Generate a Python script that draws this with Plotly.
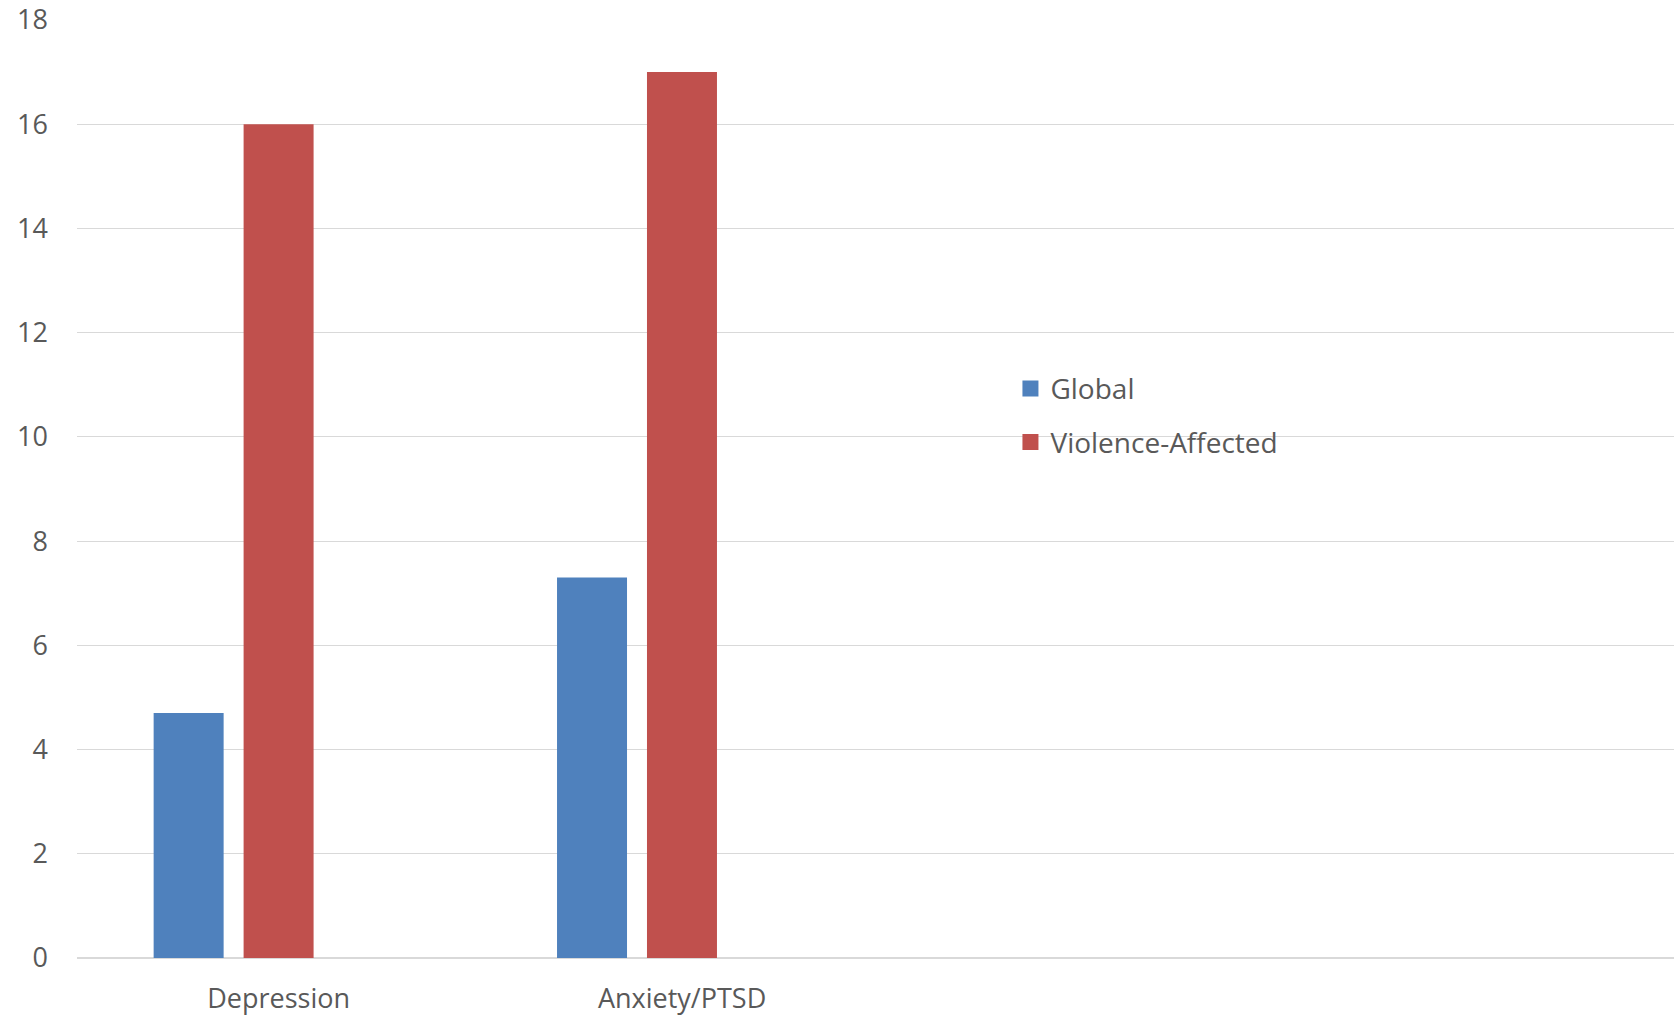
import plotly.graph_objects as go

# Prevalence (%) of mental disorders: global population vs. violence-affected populations
categories = ["Depression", "Anxiety/PTSD"]
global_vals = [4.7, 7.3]
violence_vals = [16, 17]
y_ticks = [0, 2, 4, 6, 8, 10, 12, 14, 16, 18]

BLUE = "#4F81BD"
RED = "#C0504D"
TEXT = "#595959"
GRID = "#D9D9D9"
FONT = "Open Sans"

x_pos = list(range(len(categories)))

fig = go.Figure()
# bar width and offsets in category units (three slots per group, last one empty)
bw = 0.1735
fig.add_trace(go.Bar(x=x_pos, y=global_vals, width=bw, offset=-0.310,
                     marker=dict(color=BLUE, line=dict(width=0)),
                     name="Global", showlegend=False))
fig.add_trace(go.Bar(x=x_pos, y=violence_vals, width=bw, offset=-0.087,
                     marker=dict(color=RED, line=dict(width=0)),
                     name="Violence-Affected", showlegend=False))

# legend swatches
for name, col, grp in [("Global", BLUE, "g1"), ("Violence-Affected", RED, "g2")]:
    fig.add_trace(go.Scatter(x=[None], y=[None], mode="markers", name=name,
                             legendgroup=grp,
                             marker=dict(symbol="square", size=18, color=col)))

fig.update_layout(
    width=1674, height=1019,
    margin=dict(l=77, r=0, t=20, b=61),
    plot_bgcolor="white", paper_bgcolor="white",
    font=dict(family=FONT, color=TEXT, size=26),
    showlegend=True,
    legend=dict(x=0.5845, y=0.6335, xanchor="left", yanchor="top",
                font=dict(size=28, color=TEXT), traceorder="grouped",
                tracegroupgap=14, bgcolor="rgba(0,0,0,0)", itemsizing="trace"),
    xaxis=dict(range=[-0.5, 3.459], tickmode="array", tickvals=x_pos,
               ticktext=categories, showgrid=False, zeroline=False,
               showline=False, ticks="", ticklabelstandoff=22,
               tickfont=dict(size=27, color=TEXT)),
    yaxis=dict(range=[0, 18], tickmode="array", tickvals=y_ticks,
               showgrid=True, gridcolor=GRID, gridwidth=1.3, zeroline=True,
               zerolinecolor=GRID, zerolinewidth=1.5, showline=False, ticks="",
               ticklabelstandoff=28, tickfont=dict(size=27, color=TEXT)),
)

fig.write_html("out.html")
